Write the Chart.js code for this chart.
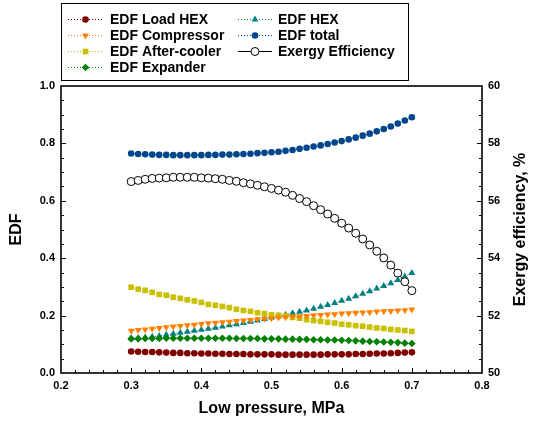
<!DOCTYPE html>
<html>
<head>
<meta charset="utf-8">
<script src="https://cdn.jsdelivr.net/npm/chart.js@4.4.0/dist/chart.umd.min.js"></script>
<style>
  body { margin: 0; background: #fff; }
  canvas { display: block; }
</style>
</head>
<body>
<canvas id="myChart" width="533" height="423"></canvas>
<script>
// low pressure, MPa
var pressure = [0.30, 0.31, 0.32, 0.33, 0.34, 0.35, 0.36, 0.37, 0.38, 0.39,
                0.40, 0.41, 0.42, 0.43, 0.44, 0.45, 0.46, 0.47, 0.48, 0.49,
                0.50, 0.51, 0.52, 0.53, 0.54, 0.55, 0.56, 0.57, 0.58, 0.59,
                0.60, 0.61, 0.62, 0.63, 0.64, 0.65, 0.66, 0.67, 0.68, 0.69, 0.70];

var edfLoadHex = [0.075, 0.074, 0.073, 0.073, 0.072, 0.071, 0.070, 0.070, 0.069, 0.069,
                  0.068, 0.068, 0.067, 0.067, 0.066, 0.066, 0.066, 0.065, 0.065, 0.065,
                  0.065, 0.064, 0.064, 0.064, 0.064, 0.064, 0.064, 0.064, 0.065, 0.065,
                  0.065, 0.065, 0.066, 0.066, 0.067, 0.068, 0.068, 0.069, 0.070, 0.071, 0.072];

var edfCompressor = [0.147, 0.150, 0.152, 0.154, 0.157, 0.159, 0.162, 0.164, 0.166, 0.168,
                     0.171, 0.173, 0.175, 0.177, 0.179, 0.181, 0.183, 0.185, 0.187, 0.189,
                     0.191, 0.193, 0.194, 0.196, 0.198, 0.199, 0.201, 0.202, 0.204, 0.205,
                     0.207, 0.208, 0.210, 0.211, 0.212, 0.214, 0.215, 0.216, 0.218, 0.219, 0.221];

var edfAfterCooler = [0.299, 0.292, 0.288, 0.281, 0.274, 0.271, 0.264, 0.260, 0.255, 0.251,
                      0.246, 0.239, 0.236, 0.232, 0.228, 0.222, 0.218, 0.215, 0.210, 0.207,
                      0.203, 0.201, 0.199, 0.194, 0.191, 0.186, 0.183, 0.180, 0.177, 0.174,
                      0.170, 0.168, 0.165, 0.163, 0.160, 0.157, 0.155, 0.152, 0.150, 0.148, 0.145];

var edfExpander = [0.119, 0.119, 0.120, 0.120, 0.120, 0.121, 0.121, 0.121, 0.121, 0.121,
                   0.121, 0.121, 0.121, 0.121, 0.121, 0.120, 0.120, 0.120, 0.120, 0.119,
                   0.119, 0.119, 0.118, 0.118, 0.117, 0.117, 0.116, 0.116, 0.115, 0.115,
                   0.114, 0.113, 0.112, 0.111, 0.110, 0.109, 0.108, 0.107, 0.106, 0.104, 0.103];

var edfHex = [0.121, 0.122, 0.124, 0.126, 0.129, 0.133, 0.137, 0.140, 0.144, 0.147,
              0.151, 0.154, 0.158, 0.162, 0.166, 0.170, 0.174, 0.179, 0.183, 0.188,
              0.193, 0.198, 0.203, 0.208, 0.213, 0.218, 0.224, 0.231, 0.237, 0.244,
              0.252, 0.259, 0.267, 0.276, 0.285, 0.294, 0.303, 0.313, 0.324, 0.336, 0.348];

var edfTotal = [0.765, 0.763, 0.762, 0.761, 0.760, 0.760, 0.759, 0.759, 0.759, 0.759,
                0.759, 0.760, 0.760, 0.761, 0.761, 0.762, 0.763, 0.764, 0.766, 0.767,
                0.769, 0.771, 0.774, 0.777, 0.781, 0.785, 0.789, 0.793, 0.798, 0.803,
                0.808, 0.814, 0.820, 0.827, 0.834, 0.842, 0.850, 0.859, 0.869, 0.880, 0.891];

// exergy efficiency, %
var exergyEff = [56.67, 56.71, 56.75, 56.78, 56.79, 56.80, 56.82, 56.82, 56.82, 56.82,
                 56.80, 56.79, 56.77, 56.75, 56.71, 56.68, 56.63, 56.59, 56.54, 56.49,
                 56.43, 56.37, 56.30, 56.19, 56.08, 55.97, 55.83, 55.69, 55.54, 55.39,
                 55.22, 55.05, 54.87, 54.67, 54.46, 54.24, 54.01, 53.76, 53.48, 53.18, 52.87];

var xTicks = [0.2, 0.3, 0.4, 0.5, 0.6, 0.7, 0.8];
var yTicks = [0.0, 0.2, 0.4, 0.6, 0.8, 1.0];
var y2Ticks = [50, 52, 54, 56, 58, 60];

function pts(ys) {
    return pressure.map(function (p, i) { return { x: p, y: ys[i] }; });
}

function edfSet(label, ys, color, style, radius, rotation) {
    return {
        label: label,
        data: pts(ys),
        yAxisID: 'y',
        borderColor: color,
        borderWidth: 1,
        borderDash: [1, 2],
        backgroundColor: color,
        pointStyle: style,
        pointRadius: radius,
        pointRotation: rotation || 0,
        pointBorderWidth: 0,
        pointBackgroundColor: color,
        pointBorderColor: color
    };
}

var FONT = 'Arial, "Liberation Sans", sans-serif';

function drawMarker(ctx, style, x, y, r, rotation) {
    ctx.beginPath();
    if (style === 'circle') {
        ctx.arc(x, y, r, 0, Math.PI * 2);
    } else if (style === 'rect') {
        var s = r * Math.SQRT1_2;
        ctx.rect(x - s, y - s, 2 * s, 2 * s);
    } else if (style === 'rectRot') {
        ctx.moveTo(x, y - r); ctx.lineTo(x + r, y); ctx.lineTo(x, y + r); ctx.lineTo(x - r, y);
        ctx.closePath();
    } else if (style === 'triangle') {
        var rad = (rotation || 0) * Math.PI / 180;
        for (var k = 0; k < 3; k++) {
            var a = rad - Math.PI / 2 + k * 2 * Math.PI / 3;
            var px = x + Math.cos(a) * r, py = y + Math.sin(a) * r;
            if (k === 0) ctx.moveTo(px, py); else ctx.lineTo(px, py);
        }
        ctx.closePath();
    }
}

// frame around the plot + inward major/minor ticks + right axis title
var frameTicks = {
    id: 'frameTicks',
    afterDraw: function (chart) {
        var ctx = chart.ctx, a = chart.chartArea;
        var sx = chart.scales.x, sy = chart.scales.y, sy2 = chart.scales.y2;
        ctx.save();
        ctx.strokeStyle = '#000';
        ctx.lineWidth = 1;
        function tick(x1, y1, x2, y2) {
            ctx.beginPath(); ctx.moveTo(x1, y1); ctx.lineTo(x2, y2); ctx.stroke();
        }
        var i, p;
        for (i = 1; i < 30; i++) {
            p = Math.round(sx.getPixelForValue(0.2 + i * 0.02)) + 0.5;
            tick(p, a.bottom, p, a.bottom - (i % 5 === 0 ? 5 : 3));
        }
        for (i = 1; i < 20; i++) {
            p = Math.round(sy.getPixelForValue(i * 0.05)) + 0.5;
            tick(a.left, p, a.left + (i % 4 === 0 ? 5 : 3), p);
        }
        for (i = 1; i < 20; i++) {
            p = Math.round(sy2.getPixelForValue(50 + i * 0.5)) + 0.5;
            tick(a.right, p, a.right - (i % 4 === 0 ? 5 : 3), p);
        }
        ctx.lineWidth = 1.6;
        ctx.strokeRect(a.left, a.top, a.right - a.left, a.bottom - a.top);

        // right title reads bottom-to-top like the left one
        ctx.translate(521, (a.top + a.bottom) / 2);
        ctx.rotate(-Math.PI / 2);
        ctx.font = 'bold 16px ' + FONT;
        ctx.fillStyle = '#000';
        ctx.textAlign = 'center';
        ctx.textBaseline = 'middle';
        ctx.fillText('Exergy efficiency, %', 0, 0);
        ctx.restore();
    }
};

// boxed two-column legend
var boxLegend = {
    id: 'boxLegend',
    afterDraw: function (chart) {
        var ctx = chart.ctx;
        ctx.save();
        ctx.strokeStyle = '#000';
        ctx.lineWidth = 1;
        ctx.strokeRect(61.5, 3.5, 347, 77);
        ctx.font = 'bold 14px ' + FONT;
        ctx.textBaseline = 'middle';
        ctx.fillStyle = '#000';
        var cols = [{ x0: 68, x1: 103, t: 110 }, { x0: 238, x1: 272, t: 278 }];
        var rowY = [19, 35, 51, 67];
        chart.data.datasets.forEach(function (ds, i) {
            var c = cols[i < 4 ? 0 : 1];
            var y = rowY[i < 4 ? i : i - 4];
            ctx.save();
            ctx.strokeStyle = ds.borderColor;
            ctx.lineWidth = ds.borderWidth;
            ctx.setLineDash(ds.borderDash || []);
            ctx.beginPath(); ctx.moveTo(c.x0, y + 0.5); ctx.lineTo(c.x1, y + 0.5); ctx.stroke();
            ctx.setLineDash([]);
            drawMarker(ctx, ds.pointStyle, (c.x0 + c.x1) / 2, y + 0.5, ds.pointRadius, ds.pointRotation);
            ctx.fillStyle = ds.pointBackgroundColor;
            ctx.fill();
            if (ds.pointBorderWidth) {
                ctx.lineWidth = ds.pointBorderWidth;
                ctx.strokeStyle = ds.pointBorderColor;
                ctx.stroke();
            }
            ctx.restore();
            ctx.fillText(ds.label, c.t, y + 1);
        });
        ctx.restore();
    }
};

var tickFont = { family: FONT, size: 11, weight: 'bold' };

var ctx = document.getElementById('myChart');
var myChart = new Chart(ctx, {
    type: 'line',
    data: {
        datasets: [
            edfSet('EDF Load HEX', edfLoadHex, '#800000', 'circle', 3.3),
            edfSet('EDF Compressor', edfCompressor, '#ff8000', 'triangle', 4, 180),
            edfSet('EDF After-cooler', edfAfterCooler, '#c8c000', 'rect', 4),
            edfSet('EDF Expander', edfExpander, '#008000', 'rectRot', 3.8),
            edfSet('EDF HEX', edfHex, '#008080', 'triangle', 4),
            edfSet('EDF total', edfTotal, '#00468c', 'circle', 3.3),
            {
                label: 'Exergy Efficiency',
                data: pts(exergyEff),
                yAxisID: 'y2',
                borderColor: '#000',
                borderWidth: 1,
                pointStyle: 'circle',
                pointRadius: 4,
                pointBorderWidth: 1,
                pointBackgroundColor: '#fff',
                pointBorderColor: '#000',
                order: -1
            }
        ]
    },
    options: {
        responsive: false,
        animation: false,
        layout: { padding: { top: 86, left: 0, right: 0, bottom: 0 } },
        plugins: { legend: { display: false }, tooltip: { enabled: false } },
        scales: {
            x: {
                type: 'linear', min: 0.2, max: 0.8,
                afterBuildTicks: function (s) { s.ticks = xTicks.map(function (v) { return { value: v }; }); },
                afterFit: function (s) { s.height = 50; },
                grid: { display: false, drawTicks: false },
                border: { display: false },
                ticks: { padding: 6, color: '#000', font: tickFont, autoSkip: false, maxRotation: 0,
                         callback: function (v) { return v.toFixed(1); } },
                title: { display: true, text: 'Low pressure, MPa', color: '#000', padding: 0,
                         font: { family: FONT, size: 16, weight: 'bold', lineHeight: '28px' } }
            },
            y: {
                position: 'left', min: 0, max: 1,
                afterBuildTicks: function (s) { s.ticks = yTicks.map(function (v) { return { value: v }; }); },
                afterFit: function (s) { s.width = 61; },
                grid: { display: false, drawTicks: false },
                border: { display: false },
                ticks: { padding: 6, color: '#000', font: tickFont, autoSkip: false,
                         callback: function (v) { return v.toFixed(1); } },
                title: { display: true, text: 'EDF', color: '#000', padding: 0,
                         font: { family: FONT, size: 16, weight: 'bold', lineHeight: '34px' } }
            },
            y2: {
                position: 'right', min: 50, max: 60,
                afterBuildTicks: function (s) { s.ticks = y2Ticks.map(function (v) { return { value: v }; }); },
                afterFit: function (s) { s.width = 51; },
                grid: { display: false, drawTicks: false },
                border: { display: false },
                ticks: { padding: 6, color: '#000', font: tickFont, autoSkip: false },
                title: { display: false }
            }
        }
    },
    plugins: [frameTicks, boxLegend]
});
</script>
</body>
</html>
